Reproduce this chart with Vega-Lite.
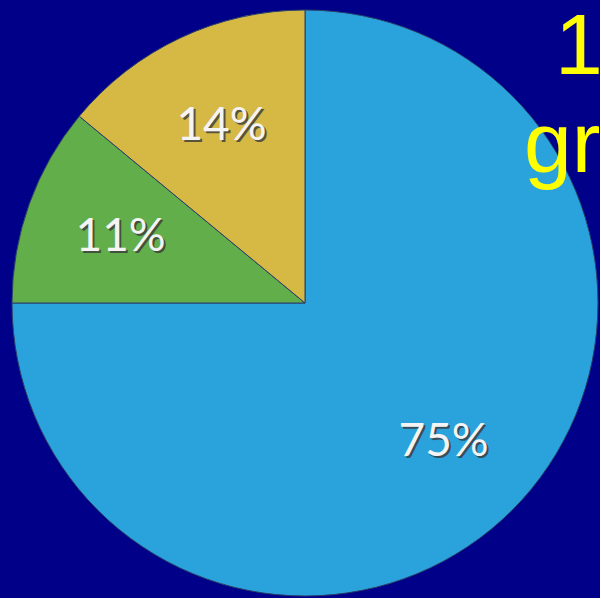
{
  "$schema": "https://vega.github.io/schema/vega-lite/v6.json",
  "width": 590,
  "height": 590,
  "padding": {"left": 10, "top": 8, "right": 0, "bottom": 0},
  "autosize": "none",
  "background": "#000088",
  "config": {"view": {"stroke": null}},
  "title": {
    "text": ["\u200b\u00a0\u200a1", "gr"],
    "orient": "top",
    "anchor": "start",
    "frame": "group",
    "align": "left",
    "baseline": "alphabetic",
    "dx": 514,
    "offset": -250,
    "font": "Liberation Sans",
    "fontSize": 86,
    "fontWeight": "normal",
    "lineHeight": 98,
    "color": "#ffff00"
  },
  "data": {
    "values": [
      {"cat": "A", "value": 75, "label": "75%", "ord": 1},
      {"cat": "B", "value": 11, "label": "11%", "ord": 2},
      {"cat": "C", "value": 14, "label": "14%", "ord": 3}
    ]
  },
  "encoding": {
    "theta": {"field": "value", "type": "quantitative", "stack": true},
    "order": {"field": "ord", "type": "quantitative"}
  },
  "layer": [
    {
      "mark": {"type": "arc", "outerRadius": 293, "stroke": "#2a3f6a", "strokeWidth": 1},
      "encoding": {
        "color": {
          "field": "cat",
          "type": "nominal",
          "scale": {"domain": ["A", "B", "C"], "range": ["#2aa3dc", "#62ae4a", "#d6b845"]},
          "legend": null
        }
      }
    },
    {
      "mark": {"type": "text", "radius": 196, "dx": 2, "dy": 2, "font": "Lato", "fontSize": 46, "fill": "#3a3a3a", "opacity": 0.8},
      "encoding": {"text": {"field": "label"}}
    },
    {
      "mark": {"type": "text", "radius": 196, "font": "Lato", "fontSize": 46, "fill": "#f4f4f4"},
      "encoding": {"text": {"field": "label"}}
    }
  ]
}
